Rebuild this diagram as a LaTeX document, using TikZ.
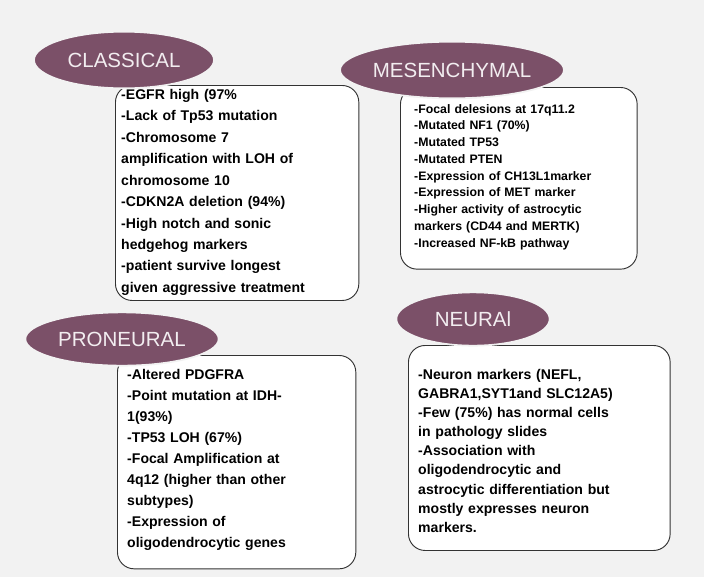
\documentclass[tikz,border=0pt]{standalone}
\usepackage{fontspec}
\setmainfont{Liberation Sans}
\usetikzlibrary{positioning,shapes.geometric}
\definecolor{mauve}{HTML}{7B5068}
\definecolor{paper}{HTML}{F2F2F2}
\begin{document}
\begin{tikzpicture}[x=0.03cm, y=-0.03cm,
                    infobox/.style = {draw = black!80, fill = white, rounded corners = 0.5cm,
                                      line width = 0.8pt, align = left, anchor = north west,
                                      inner sep = 0pt},
                    boxtext/.style = {align = left, anchor = north west, inner sep = 0pt},
                    tag/.style = {ellipse, draw = paper, line width = 1.5pt, fill = mauve,
                                  text = white!90!mauve, inner sep = 0pt,
                                  font = \fontsize{17.5}{20}\selectfont}]

\fill[paper] (0,0) rectangle (704,577);

% boxes
\node[infobox, minimum width = 7.3cm, minimum height = 6.45cm] (cbox) at (115,85) {};
\node[infobox, minimum width = 7.1cm, minimum height = 5.45cm] (mbox) at (400,87) {};
\node[infobox, minimum width = 7.15cm, minimum height = 6.4cm] (pbox) at (117,355) {};
\node[infobox, minimum width = 7.85cm, minimum height = 6.15cm] (nbox) at (408,345) {};

% texts
\node[boxtext, text width = 7.3cm, font = \bfseries\fontsize{12}{18.3}\selectfont] (ctext) at (121,89)
  {-EGFR high (97\%\\-Lack of Tp53 mutation\\-Chromosome 7\\amplification with LOH of\\chromosome 10\\-CDKN2A deletion (94\%)\\-High notch and sonic\\hedgehog markers\\-patient survive longest\\given aggressive treatment};
\node[boxtext, text width = 6.8cm, font = \bfseries\fontsize{10.5}{14.3}\selectfont] (mtext) at (414,104)
  {-Focal delesions at 17q11.2\\-Mutated NF1 (70\%)\\-Mutated TP53\\-Mutated PTEN\\-Expression of CH13L1marker\\-Expression of MET marker\\-Higher activity of astrocytic\\markers (CD44 and MERTK)\\-Increased NF-kB pathway};
\node[boxtext, text width = 7cm, font = \bfseries\fontsize{12}{17.9}\selectfont] (ptext) at (127,369)
  {-Altered PDGFRA\\-Point mutation at IDH-\\1(93\%)\\-TP53 LOH (67\%)\\-Focal Amplification at\\4q12 (higher than other\\subtypes)\\-Expression of\\oligodendrocytic genes};
\node[boxtext, text width = 7.6cm, font = \bfseries\fontsize{12}{16.3}\selectfont] (ntext) at (418,369)
  {-Neuron markers (NEFL,\\GABRA1,SYT1and SLC12A5)\\-Few (75\%) has normal cells\\in pathology slides\\-Association with\\oligodendrocytic and\\astrocytic differentiation but\\mostly expresses neuron\\markers.};

% tags
\node[tag, minimum width = 5.4cm, minimum height = 1.7cm] (classical) at (124,60) {CLASSICAL};
\node[tag, minimum width = 6.5cm, minimum height = 1.7cm] (mesenchymal) at (452,70) {MESENCHYMAL};
\node[tag, minimum width = 5.8cm, minimum height = 1.6cm] (proneural) at (122,339) {PRONEURAL};
\node[tag, minimum width = 4.6cm, minimum height = 1.6cm] (neural) at (473,319) {NEURAl};

\end{tikzpicture}
\end{document}
